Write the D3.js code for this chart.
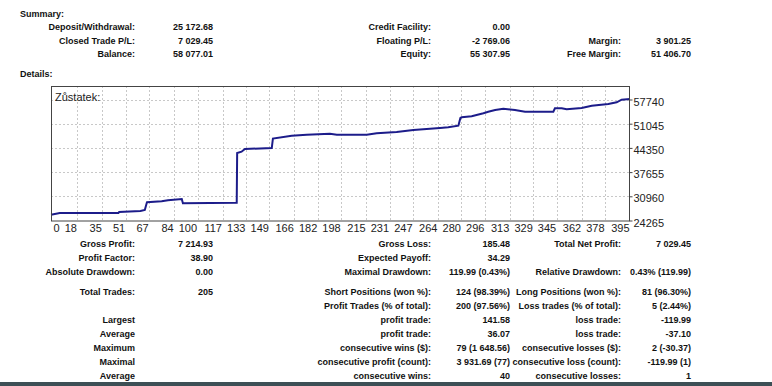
<!doctype html>
<html lang="en">
<head>
<meta charset="utf-8">
<title>Zůstatek</title>
<style>
  body { margin: 0; background: #fff; }
  svg { display: block; }
  .lbl { font-family: "Liberation Sans", Arial, sans-serif; font-size: 9px; font-weight: bold; fill: #111; }
  .axis text { font-family: "Liberation Sans", Arial, sans-serif; font-size: 11px; fill: #222; }
</style>
</head>
<body>
<script src="https://d3js.org/d3.v7.min.js"></script>
<script>
var W = 772, H = 386;

// balance curve: trade index / balance
var tradeIdx = [0, 6, 46, 46.5, 61, 64, 65.3, 65.5, 75.5, 79.8, 89.2, 90, 126.7, 127, 130, 132.3,
                150.6, 151.4, 164.2, 174.4, 190.3, 195, 215.4, 222.2, 235.8, 247.2, 265.4, 271,
                277.9, 279.3, 280.2, 287, 295, 298.3, 303, 308.6, 316.5, 323.4, 342.7, 343.8,
                348.4, 351.8, 362, 368.9, 380.2, 385.9, 389.3, 395];
var balance = [25870, 26340, 26340, 26620, 26900, 27170, 29110, 29300, 29580, 29850, 30210, 29020, 29190, 42940, 43300, 44045,
               44320, 46950, 47725, 48000, 48280, 48000, 48000, 48390, 48750, 49300, 49855, 50050,
               50490, 52620, 52815, 53090, 53920, 54365, 54835, 55195, 54835, 54365, 54365, 55305,
               55305, 55030, 55390, 56025, 56495, 56965, 57685, 57900];

var xTicks = [0, 18, 35, 51, 67, 84, 100, 117, 133, 149, 166, 182, 198, 215, 231, 247, 264, 280, 296, 313, 329, 345, 362, 378, 395];
var yTicks = [24265, 30960, 37655, 44350, 51045, 57740];

// report tables: [label, value] per column, per row
var summaryRows = [
  [["Deposit/Withdrawal:", "25 172.68"], ["Credit Facility:", "0.00"], null],
  [["Closed Trade P/L:", "7 029.45"], ["Floating P/L:", "-2 769.06"], ["Margin:", "3 901.25"]],
  [["Balance:", "58 077.01"], ["Equity:", "55 307.95"], ["Free Margin:", "51 406.70"]]
];
var summaryY = [27, 41, 54];

var detailRows = [
  [["Gross Profit:", "7 214.93"], ["Gross Loss:", "185.48"], ["Total Net Profit:", "7 029.45"]],
  [["Profit Factor:", "38.90"], ["Expected Payoff:", "34.29"], null],
  [["Absolute Drawdown:", "0.00"], ["Maximal Drawdown:", "119.99 (0.43%)"], ["Relative Drawdown:", "0.43% (119.99)"]],
  [["Total Trades:", "205"], ["Short Positions (won %):", "124 (98.39%)"], ["Long Positions (won %):", "81 (96.30%)"]],
  [null, ["Profit Trades (% of total):", "200 (97.56%)"], ["Loss trades (% of total):", "5 (2.44%)"]],
  [["Largest", ""], ["profit trade:", "141.58"], ["loss trade:", "-119.99"]],
  [["Average", ""], ["profit trade:", "36.07"], ["loss trade:", "-37.10"]],
  [["Maximum", ""], ["consecutive wins ($):", "79 (1 648.56)"], ["consecutive losses ($):", "2 (-30.37)"]],
  [["Maximal", ""], ["consecutive profit (count):", "3 931.69 (77)"], ["consecutive loss (count):", "-119.99 (1)"]],
  [["Average", ""], ["consecutive wins:", "40"], ["consecutive losses:", "1"]]
];
var detailY = [244, 258, 272, 292, 306, 320, 334, 348, 362, 376];

var labelRight = [135, 431, 621];
var valueRight = [213, 510, 691];

var svg = d3.select("body").append("svg")
    .attr("width", W)
    .attr("height", H);

svg.append("rect").attr("width", W).attr("height", H).attr("fill", "#fff");

svg.append("text").attr("class", "lbl").attr("x", 20).attr("y", 17).text("Summary:");
svg.append("text").attr("class", "lbl").attr("x", 20).attr("y", 77).text("Details:");

function drawTable(rows, ys) {
  rows.forEach(function(row, r) {
    row.forEach(function(cell, c) {
      if (!cell) return;
      svg.append("text").attr("class", "lbl")
        .attr("x", labelRight[c]).attr("y", ys[r] + 3)
        .attr("text-anchor", "end").text(cell[0]);
      svg.append("text").attr("class", "lbl")
        .attr("x", valueRight[c]).attr("y", ys[r] + 3)
        .attr("text-anchor", "end").text(cell[1]);
    });
  });
}
drawTable(summaryRows, summaryY);
drawTable(detailRows, detailY);

// chart
var box = {left: 51, top: 86, right: 630, bottom: 220.5};
var x = d3.scaleLinear().domain([0, 395]).range([box.left, box.right]);
var y = d3.scaleLinear().domain([24265, 57740]).range([box.bottom, 99.5]);

var g = svg.append("g");

g.selectAll("line.vg")
  .data(xTicks.slice(1, -1))
  .enter().append("line")
  .attr("class", "vg")
  .attr("x1", function(d) { return Math.round(x(d)) + 0.5; })
  .attr("x2", function(d) { return Math.round(x(d)) + 0.5; })
  .attr("y1", box.top).attr("y2", box.bottom)
  .attr("stroke", "#c8c8c8").attr("stroke-dasharray", "2,2");

g.selectAll("line.hg")
  .data(yTicks.slice(1))
  .enter().append("line")
  .attr("class", "hg")
  .attr("y1", function(d) { return Math.round(y(d)) + 0.5; })
  .attr("y2", function(d) { return Math.round(y(d)) + 0.5; })
  .attr("x1", box.left).attr("x2", box.right)
  .attr("stroke", "#c8c8c8").attr("stroke-dasharray", "2,2");

var line = d3.line()
  .x(function(d, i) { return x(tradeIdx[i]); })
  .y(function(d) { return y(d); });

g.append("path")
  .datum(balance)
  .attr("fill", "none")
  .attr("stroke", "#1c1c8a")
  .attr("stroke-width", 2)
  .attr("d", line);

g.append("rect")
  .attr("x", box.left + 0.5).attr("y", box.top + 0.5)
  .attr("width", box.right - box.left - 1).attr("height", box.bottom - box.top)
  .attr("fill", "none").attr("stroke", "#444");

g.append("text")
  .attr("x", 55).attr("y", 101)
  .attr("font-family", "Liberation Sans, Arial, sans-serif")
  .attr("font-size", 11).attr("fill", "#222")
  .text("Zůstatek:");

var yAxis = svg.append("g")
  .attr("class", "axis")
  .attr("transform", "translate(" + (box.right - 0.5) + ",0)")
  .call(d3.axisRight(y).tickValues(yTicks).tickSize(3).tickPadding(1).tickFormat(d3.format("d")));
yAxis.select(".domain").remove();
yAxis.selectAll("line").attr("stroke", "#444");
yAxis.selectAll("text").attr("dy", "0.5em");

var xAxis = svg.append("g")
  .attr("class", "axis")
  .attr("transform", "translate(0," + box.bottom + ")")
  .call(d3.axisBottom(x).tickValues(xTicks).tickSize(0).tickPadding(4).tickFormat(d3.format("d")));
xAxis.select(".domain").remove();
xAxis.selectAll("text")
  .attr("text-anchor", function(d) { return d === 0 ? "start" : "end"; })
  .attr("dx", function(d) { return d === 0 ? 2 : -1; });

// desktop strip below the window
svg.append("rect").attr("x", 0).attr("y", 382).attr("width", W).attr("height", 4).attr("fill", "#3d4f55");
</script>
</body>
</html>
